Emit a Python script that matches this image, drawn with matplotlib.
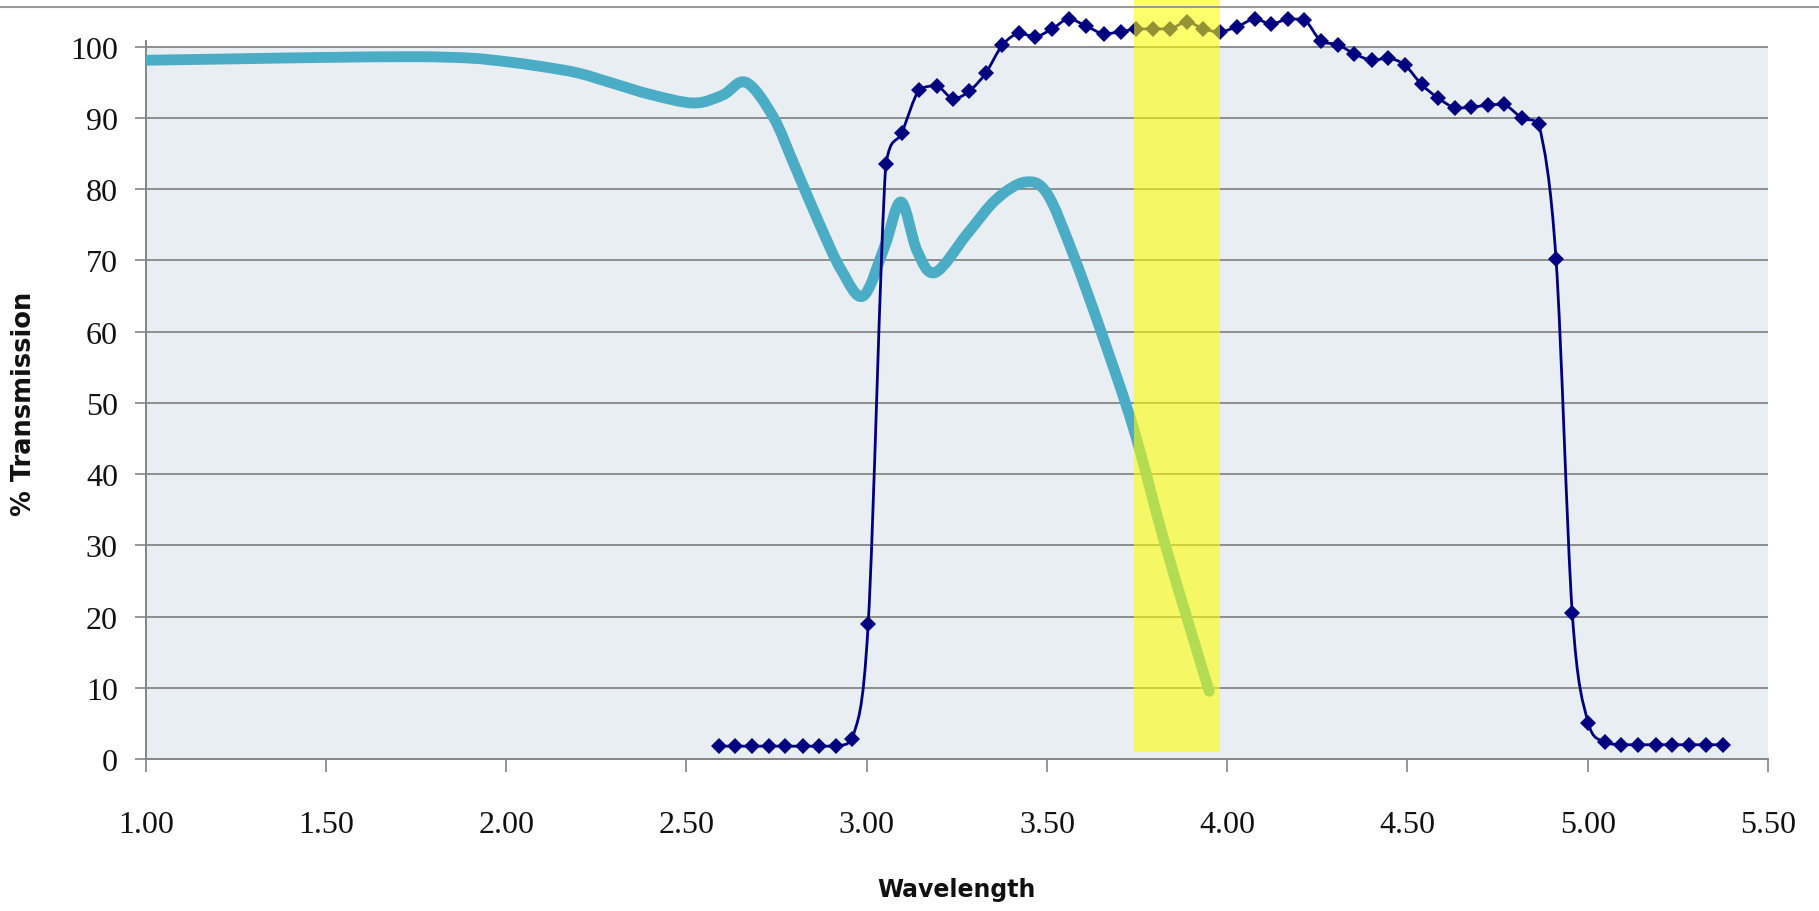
import numpy as np
import matplotlib
matplotlib.use("Agg")
import matplotlib.pyplot as plt
from matplotlib.path import Path
from matplotlib.patches import PathPatch, Rectangle
from matplotlib.lines import Line2D

# ---------------- data ----------------
# thick light-blue transmission curve (smoothed line, no markers)
material_wl = [1.00, 1.25, 1.50, 1.75, 1.90, 2.00, 2.10, 2.20, 2.30, 2.40, 2.52, 2.60,
               2.665, 2.74, 2.80, 2.87, 2.93, 2.99, 3.05, 3.095, 3.14, 3.19, 3.28,
               3.36, 3.44, 3.50, 3.57, 3.65, 3.74, 3.82, 3.89, 3.95]
material_t = [98.1, 98.3, 98.5, 98.6, 98.4, 97.9, 97.2, 96.3, 94.8, 93.3, 92.1, 93.2,
              95.0, 90.2, 83.3, 75.0, 68.6, 65.0, 72.0, 78.2, 71.3, 68.3, 73.8,
              78.6, 81.0, 79.4, 71.2, 60.0, 46.4, 31.5, 19.5, 9.5]

# dark-blue filter curve (smoothed line with diamond markers)
filter_wl = [2.589, 2.635, 2.682, 2.728, 2.774, 2.822, 2.868, 2.916, 2.960, 3.004,
             3.053, 3.097, 3.145, 3.194, 3.240, 3.285, 3.330, 3.376, 3.422, 3.468,
             3.514, 3.560, 3.609, 3.657, 3.704, 3.748, 3.794, 3.842, 3.888, 3.934,
             3.979, 4.027, 4.076, 4.122, 4.168, 4.214, 4.260, 4.306, 4.353, 4.401,
             4.447, 4.493, 4.539, 4.585, 4.632, 4.676, 4.722, 4.768, 4.818, 4.864,
             4.912, 4.957, 5.001, 5.047, 5.093, 5.139, 5.188, 5.234, 5.281, 5.327,
             5.375]
filter_t = [1.8, 1.8, 1.8, 1.8, 1.8, 1.8, 1.8, 1.8, 2.8, 18.9,
            83.5, 87.9, 93.9, 94.5, 92.7, 93.8, 96.3, 100.2, 101.9, 101.4,
            102.5, 103.9, 102.9, 101.8, 102.1, 102.5, 102.5, 102.5, 103.5, 102.5,
            102.1, 102.8, 103.9, 103.2, 103.9, 103.8, 100.8, 100.3, 99.0, 98.1,
            98.4, 97.4, 94.7, 92.8, 91.4, 91.5, 91.8, 91.9, 90.0, 89.2,
            70.2, 20.5, 5.1, 2.4, 2.0, 2.0, 2.0, 2.0, 2.0, 2.0,
            2.0]

x_ticks = [1.00, 1.50, 2.00, 2.50, 3.00, 3.50, 4.00, 4.50, 5.00, 5.50]
y_ticks = [0, 10, 20, 30, 40, 50, 60, 70, 80, 90, 100]

highlight_band = (3.74, 3.98)   # yellow highlighted wavelength window
highlight_bottom = 1.0


def smooth_path(xs, ys, clamp=False):
    pts = np.column_stack([xs, ys]).astype(float)
    n = len(pts)
    verts = [pts[0]]
    codes = [Path.MOVETO]
    for i in range(n - 1):
        p0 = pts[i - 1] if i > 0 else pts[i]
        p1 = pts[i]
        p2 = pts[i + 1]
        p3 = pts[i + 2] if i + 2 < n else pts[i + 1]
        c1 = p1 + (p2 - p0) / 6.0
        c2 = p2 - (p3 - p1) / 6.0
        if clamp:
            lo, hi = min(p1[1], p2[1]), max(p1[1], p2[1])
            c1[1] = min(max(c1[1], lo), hi)
            c2[1] = min(max(c2[1], lo), hi)
        verts += [c1, c2, p2]
        codes += [Path.CURVE4] * 3
    return Path(verts, codes)


W, H = 1819, 912
fig = plt.figure(figsize=(W / 100, H / 100), dpi=100)
ax_left, ax_right = 145.7 / W, 1768 / W
ax_bottom = (H - 760) / H
ax = fig.add_axes([ax_left, ax_bottom, ax_right - ax_left, 1 - ax_bottom])

ax.set_xlim(1.0, 5.5)
ax.set_ylim(0, 106.7)
ax.set_facecolor("white")

# plot-area background (only up to 100)
ax.axhspan(0, 100, color="#E8EEF2", zorder=0, lw=0)

# gridlines
for yv in y_ticks[1:]:
    ax.axhline(yv, color="#858585", lw=1.3, zorder=1)

# curves
ax.add_patch(PathPatch(smooth_path(material_wl, material_t), fill=False,
                       edgecolor="#4BACC6", lw=7.8, capstyle="round",
                       joinstyle="round", zorder=3))
ax.add_patch(PathPatch(smooth_path(filter_wl, filter_t, clamp=True), fill=False,
                       edgecolor="#000080", lw=2.0, zorder=4))
ax.plot(filter_wl, filter_t, linestyle="none", marker="D", markersize=8.6,
        color="#000080", markeredgewidth=0, zorder=5)

# yellow highlight band
ax.add_patch(Rectangle((highlight_band[0], highlight_bottom),
                       highlight_band[1] - highlight_band[0], 200,
                       facecolor="#FFFF00", alpha=0.58, lw=0, zorder=6,
                       clip_on=False))

# spines
for s in ["top", "right"]:
    ax.spines[s].set_visible(False)
ax.spines["left"].set_bounds(0, 100.8)
ax.spines["left"].set_color("#858585")
ax.spines["bottom"].set_color("#858585")
ax.spines["left"].set_linewidth(1.4)
ax.spines["bottom"].set_linewidth(1.4)

ax.set_xticks(x_ticks)
ax.set_xticklabels([f"{v:.2f}" for v in x_ticks])
ax.set_yticks(y_ticks)
ax.set_yticklabels([str(v) for v in y_ticks])
ax.tick_params(axis="x", direction="out", length=9, width=1.2, color="#858585",
               pad=28, labelsize=23, labelcolor="#111111")
ax.tick_params(axis="y", direction="out", length=8, width=1.2, color="#858585",
               pad=12, labelsize=23, labelcolor="#111111")
for lab in ax.get_xticklabels() + ax.get_yticklabels():
    lab.set_family("Liberation Serif")

fig.text(24 / W, (H - 404) / H, "% Transmission", rotation=90, ha="center",
         va="center", fontsize=18.5, fontweight="bold", family="DejaVu Sans",
         color="#111111")
fig.text(956.7 / W, (H - 890) / H, "Wavelength", ha="center", va="center",
         fontsize=17, fontweight="bold", family="DejaVu Sans", color="#111111")

# top border line of the image
fig.add_artist(Line2D([0, 1], [1 - 7.5 / H, 1 - 7.5 / H], transform=fig.transFigure,
                      color="#9A9A9A", lw=1.5))

fig.savefig("out.png", dpi=100)
